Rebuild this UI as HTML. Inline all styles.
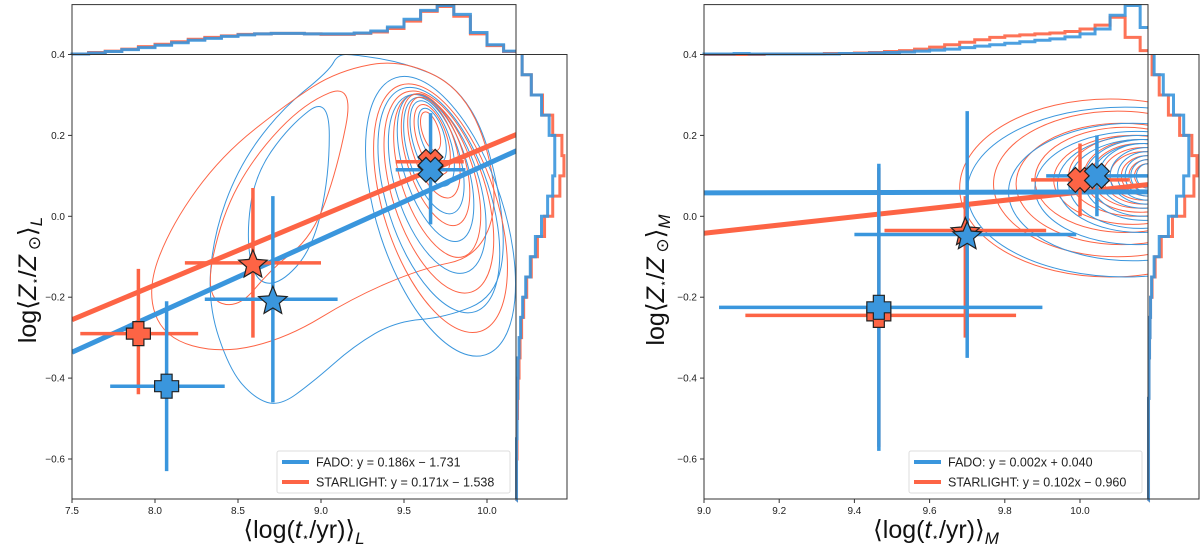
<!DOCTYPE html>
<html><head><meta charset="utf-8"><style>
body{margin:0;background:#fff;}
svg{display:block;font-family:"Liberation Sans","DejaVu Sans",sans-serif;}
</style></head><body>
<svg id="fig" width="1200" height="549" viewBox="0 0 1200 549" xmlns="http://www.w3.org/2000/svg"></svg>
<script>
const BLUE='#3a96dd', RED='#fd6445';
// ---------- Left panel data ----------
const L_fitFado=[0.186,-1.731], L_fitStar=[0.171,-1.538];
const L_fadoPts=[[8.07,-0.42,7.73,8.42,-0.63,-0.21,'plus'],[8.71,-0.205,8.30,9.10,-0.46,0.05,'star'],[9.66,0.115,9.45,9.87,-0.02,0.255,'x']];
const L_starPts=[[7.90,-0.29,7.55,8.26,-0.44,-0.13,'plus'],[8.59,-0.115,8.18,9.00,-0.30,0.07,'star'],[9.66,0.135,9.45,9.86,0.12,0.15,'x']];
const L_topBins=[7.5,7.6,7.7,7.8,7.9,8.0,8.1,8.2,8.3,8.4,8.5,8.6,8.7,8.8,8.9,9.0,9.1,9.2,9.3,9.4,9.5,9.6,9.7,9.8,9.9,10.0,10.1];
const L_topFado=[0.01,0.03,0.06,0.1,0.14,0.19,0.24,0.29,0.33,0.37,0.40,0.42,0.43,0.43,0.42,0.42,0.42,0.44,0.48,0.56,0.72,0.9,1.0,0.82,0.45,0.2,0.07];
const L_topStar=[0.01,0.04,0.07,0.11,0.16,0.21,0.26,0.31,0.35,0.38,0.41,0.42,0.43,0.43,0.42,0.41,0.41,0.43,0.46,0.53,0.68,0.88,0.98,0.78,0.42,0.18,0.06];
const L_rBins=[-0.7,-0.65,-0.6,-0.55,-0.5,-0.45,-0.4,-0.35,-0.3,-0.25,-0.2,-0.15,-0.1,-0.05,0,0.05,0.1,0.15,0.2,0.25,0.3,0.35];
const L_rFado=[0.01,0.01,0.01,0.02,0.02,0.03,0.04,0.06,0.09,0.13,0.19,0.28,0.38,0.5,0.62,0.72,0.76,0.76,0.65,0.5,0.3,0.12];
const L_rStar=[0.01,0.01,0.02,0.02,0.03,0.04,0.06,0.08,0.11,0.15,0.21,0.3,0.42,0.56,0.72,0.86,0.94,0.9,0.72,0.52,0.3,0.12];
const L_outerFado=[[9.1,0.4],[9.05,0.36],[8.75,0.26],[8.5,0.12],[8.35,-0.05],[8.32,-0.22],[8.45,-0.38],[8.6,-0.45],[8.75,-0.47],[8.95,-0.41],[9.2,-0.32],[9.45,-0.26],[9.75,-0.25],[10.05,-0.2],[10.12,-0.05],[10.0,0.2],[9.8,0.33],[9.5,0.38],[9.2,0.4]];
const L_midFado=[[8.55,-0.05],[8.6,0.1],[8.8,0.22],[9.05,0.3],[9.05,0.1],[8.95,-0.08],[8.75,-0.17],[8.6,-0.16]];
const L_outerStar=[[7.95,-0.18],[8.1,-0.02],[8.4,0.15],[8.8,0.28],[9.1,0.36],[9.5,0.39],[9.9,0.3],[10.08,0.05],[9.95,-0.1],[9.6,-0.13],[9.2,-0.2],[8.8,-0.3],[8.4,-0.34],[8.05,-0.3]];
const L_midStar=[[8.3,-0.2],[8.4,0.0],[8.6,0.15],[8.9,0.28],[9.2,0.33],[9.1,0.12],[8.95,-0.05],[8.7,-0.13],[8.5,-0.23]];
const L_ellCx=[9.72,9.72,9.71,9.71,9.70,9.70,9.69,9.69,9.68,9.68,9.67,9.67,9.67,9.66];
const L_ellCy=[0.0,0.02,0.04,0.06,0.08,0.1,0.12,0.14,0.15,0.17,0.18,0.19,0.2,0.21];
const L_ellRx=[0.38,0.34,0.31,0.28,0.25,0.22,0.19,0.17,0.15,0.13,0.11,0.09,0.07,0.05];
const L_ellRy=[0.36,0.32,0.29,0.26,0.23,0.21,0.19,0.17,0.15,0.13,0.11,0.09,0.07,0.05];
// ---------- Right panel data ----------
const R_fitFado=[0.002,0.040], R_fitStar=[0.102,-0.960];
const R_fadoPts=[[9.465,-0.225,9.04,9.90,-0.58,0.13,'plus'],[9.70,-0.045,9.40,9.99,-0.35,0.26,'star'],[10.045,0.10,9.91,10.18,0.0,0.2,'x']];
const R_starPts=[[9.465,-0.245,9.11,9.83,-0.57,0.12,'plus'],[9.695,-0.035,9.48,9.91,-0.30,0.05,'star'],[10.0,0.09,9.87,10.13,0.0,0.18,'x']];
const R_topBins=[9.0,9.04,9.08,9.12,9.16,9.2,9.24,9.28,9.32,9.36,9.4,9.44,9.48,9.52,9.56,9.6,9.64,9.68,9.72,9.76,9.8,9.84,9.88,9.92,9.96,10.0,10.04,10.08,10.12,10.16];
const R_topFado=[0.01,0.01,0.02,0.01,0.01,0.01,0.01,0.01,0.01,0.02,0.02,0.03,0.04,0.05,0.07,0.09,0.11,0.14,0.17,0.2,0.23,0.26,0.29,0.32,0.36,0.42,0.52,0.8,1.0,0.55];
const R_topStar=[0.0,0.0,0.0,0.0,0.01,0.01,0.01,0.01,0.02,0.02,0.03,0.04,0.06,0.08,0.11,0.15,0.2,0.25,0.3,0.35,0.38,0.4,0.42,0.44,0.47,0.52,0.6,0.76,0.35,0.08];
const R_rBins=L_rBins;
const R_rFado=[0.01,0.01,0.01,0.01,0.01,0.02,0.02,0.03,0.04,0.05,0.07,0.12,0.22,0.4,0.56,0.7,0.8,0.8,0.7,0.5,0.3,0.12];
const R_rStar=[0.01,0.01,0.01,0.01,0.01,0.02,0.02,0.03,0.04,0.05,0.08,0.14,0.26,0.48,0.72,0.9,0.96,0.86,0.62,0.4,0.22,0.08];
const R_ellFadoCx=[10.12,10.14,10.15,10.16,10.16,10.17,10.17,10.17,10.18,10.18,10.18,10.18,10.18];
const R_ellFadoCy=[0.06,0.06,0.07,0.08,0.08,0.09,0.09,0.1,0.1,0.1,0.1,0.1,0.1];
const R_ellFadoRx=[0.42,0.33,0.27,0.22,0.19,0.16,0.14,0.12,0.10,0.08,0.06,0.045,0.03];
const R_ellFadoRy=[0.21,0.17,0.14,0.12,0.11,0.1,0.09,0.08,0.07,0.06,0.05,0.04,0.03];
const R_ellStarCx=[10.08,10.1,10.11,10.12,10.14,10.15,10.16,10.16,10.17,10.17,10.18,10.18,10.18];
const R_ellStarCy=[0.07,0.08,0.08,0.09,0.09,0.1,0.1,0.1,0.1,0.1,0.1,0.1,0.1];
const R_ellStarRx=[0.40,0.33,0.28,0.24,0.21,0.18,0.15,0.13,0.11,0.09,0.07,0.05,0.035];
const R_ellStarRy=[0.22,0.18,0.15,0.13,0.11,0.1,0.09,0.08,0.07,0.06,0.05,0.04,0.03];

const NS='http://www.w3.org/2000/svg';
const svg=document.getElementById('fig');
function mk(tag,attrs,parent){const e=document.createElementNS(NS,tag);for(const k in attrs)e.setAttribute(k,attrs[k]);(parent||svg).appendChild(e);return e;}
const Y0=54.5, YB=499, YT=4.6, perY=404.5;
function smoothPath(pts){let d='';const n=pts.length;for(let i=0;i<n;i++){const a=pts[i],b=pts[(i+1)%n];const m=[(a[0]+b[0])/2,(a[1]+b[1])/2];if(i==0){const p=pts[n-1];d+='M'+((p[0]+a[0])/2)+','+((p[1]+a[1])/2);}d+=' Q'+a[0]+','+a[1]+' '+m[0]+','+m[1];}return d+'Z';}
function starPath(cx,cy,R){let d='';for(let i=0;i<10;i++){const r=i%2?R*0.45:R;const a=-Math.PI/2+i*Math.PI/5;d+=(i?'L':'M')+(cx+r*Math.cos(a)).toFixed(1)+','+(cy+r*Math.sin(a)).toFixed(1);}return d+'Z';}
function plusPath(cx,cy,s,w){return `M${cx-w},${cy-s}H${cx+w}V${cy-w}H${cx+s}V${cy+w}H${cx+w}V${cy+s}H${cx-w}V${cy+w}H${cx-s}V${cy-w}H${cx-w}Z`;}

function panel(o){
  const g=mk('g',{});
  
  
  const X=v=>o.x0+(v-o.xmin)*o.perX, Y=v=>Y0+(0.4-v)*perY;
  const clipId=o.name+'-clip';
  const cp=mk('clipPath',{id:clipId},g);mk('rect',{x:o.x0,y:Y0,width:o.x1-o.x0,height:YB-Y0},cp);
  const cg=mk('g',{'clip-path':`url(#${clipId})`},g);
  
  
  (o.polys||[]).forEach(p=>{const e=mk('path',{d:smoothPath(p[0].map(q=>[X(q[0]),Y(q[1])])),fill:'none',stroke:p[1],'stroke-width':1},cg);
    });
  (o.ells||[]).forEach(E=>{for(let i=0;i<E.cx.length;i++){const e=mk('ellipse',{cx:X(E.cx[i]),cy:Y(E.cy[i]),rx:E.rx[i]*o.perX,ry:E.ry[i]*perY,fill:'none',stroke:(E.alt&&i%2)?E.alt:E.col,'stroke-width':1,transform:E.rot?`rotate(${E.rot} ${X(E.cx[i])} ${Y(E.cy[i])})`:''},cg);
    }});
  [[o.fitStar,RED,'fit-line-starlight'],[o.fitFado,BLUE,'fit-line-fado']].forEach(f=>{
    const xa=o.xmin,xb=o.xmax;const e=mk('line',{x1:X(xa),y1:Y(f[0][0]*xa+f[0][1]),x2:X(xb),y2:Y(f[0][0]*xb+f[0][1]),stroke:f[1],'stroke-width':5},cg);
    });
  [[o.starPts,RED,'starlight'],[o.fadoPts,BLUE,'fado']].forEach(S=>{S[0].forEach(p=>{
    const h=mk('line',{x1:X(p[2]),x2:Math.min(X(p[3]),o.x1),y1:Y(p[1]),y2:Y(p[1]),stroke:S[1],'stroke-width':3.5},cg);
    
    const v=mk('line',{x1:X(p[0]),x2:X(p[0]),y1:Y(p[4]),y2:Y(p[5]),stroke:S[1],'stroke-width':3.5},cg);
    });});
  [[o.starPts,RED,'starlight'],[o.fadoPts,BLUE,'fado']].forEach(S=>{S[0].forEach(p=>{
    const cx=X(p[0]),cy=Y(p[1]);let d;
    if(p[6]=='star')d=starPath(cx,cy+2,15);else d=plusPath(cx,cy,12,5.5);
    const m=mk('path',{d:d,fill:S[1],stroke:'#222','stroke-width':1.2,transform:p[6]=='x'?`rotate(45 ${cx} ${cy})`:''},cg);
    });});
  [[o.topStar,RED],[o.topFado,BLUE]].forEach(H=>{let d='M'+X(o.topBins[0])+','+Y0;const w=o.topBins[1]-o.topBins[0];
    o.topBins.forEach((b,i)=>{const yy=Y0-H[0][i]*49;d+=' L'+X(b)+','+yy+' L'+Math.min(X(b+w),o.x1)+','+yy;});
    const e=mk('path',{d:d,fill:'none',stroke:H[1],'stroke-width':3,'stroke-opacity':0.9},g);
    });
  [[o.rStar,RED],[o.rFado,BLUE]].forEach(H=>{let d='M'+o.x1+','+YB;const w=0.05;
    o.rBins.forEach((b,i)=>{const xx=o.x1+H[0][i]*51;d+=' L'+xx+','+Y(b)+' L'+xx+','+Y(b+w);});
    const e=mk('path',{d:d,fill:'none',stroke:H[1],'stroke-width':3,'stroke-opacity':0.9},g);
    });
  const fr=[[o.x0,Y0,o.x1-o.x0,YB-Y0],[o.x0,YT,o.x1-o.x0,Y0-YT],[o.x1,Y0,51,YB-Y0]];
  fr.forEach(r=>{const e=mk('rect',{x:r[0],y:r[1],width:r[2],height:r[3],fill:'none',stroke:'#333','stroke-width':1},g);
    });
  o.xticks.forEach(t=>{mk('line',{x1:X(t),x2:X(t),y1:YB,y2:YB+4,stroke:'#333'},g);
    const e=mk('text',{x:X(t),y:YB+15,'font-size':10,'text-anchor':'middle',fill:'#222'},g);e.textContent=t.toFixed(1);
    });
  o.yticks.forEach(t=>{mk('line',{x1:o.x0,x2:o.x0-4,y1:Y(t),y2:Y(t),stroke:'#333'},g);
    const e=mk('text',{x:o.x0-7,y:Y(t)+3.5,'font-size':10,'text-anchor':'end',fill:'#222'},g);e.textContent=(t<0?'\u2212':'')+Math.abs(t).toFixed(1);
    });
  const xt=mk('text',{x:(o.x0+o.x1)/2+10,y:538,'font-size':25,'text-anchor':'middle',fill:'#111'},g);
  xt.innerHTML=`⟨log(<tspan font-style="italic">t</tspan><tspan font-size="12" dy="3">⋆</tspan><tspan dy="-3">/yr)⟩</tspan><tspan font-size="17" dy="6" font-style="italic">${o.sub}</tspan>`;
  
  const yt=mk('text',{x:0,y:0,'font-size':25,'text-anchor':'middle',fill:'#111',transform:`translate(${o.ylx},280) rotate(-90)`},g);
  yt.innerHTML=`log⟨<tspan font-style="italic">Z</tspan><tspan font-size="12" dy="3">⋆</tspan><tspan dy="-3">/</tspan><tspan font-style="italic">Z</tspan><tspan font-size="17" dy="4"> ⊙</tspan><tspan dy="-4">⟩</tspan><tspan font-size="17" dy="6" font-style="italic">${o.sub}</tspan>`;
  
  const lg=mk('g',{},g);
  mk('rect',{x:o.lx,y:451,width:233,height:42,fill:'#fff','fill-opacity':0.85,stroke:'#ddd',rx:2},lg);
  o.leg.forEach((L,i)=>{const y=462+i*20;mk('line',{x1:o.lx+5,x2:o.lx+32,y1:y,y2:y,stroke:L[1],'stroke-width':4},lg);
    const t=mk('text',{x:o.lx+39,y:y+4.5,'font-size':12.5,fill:'#222'},lg);t.textContent=L[0];
    });
}
panel({name:'left-panel',x0:72,x1:516,xmin:7.5,xmax:10.18,perX:166,sub:'L',ylx:36,lx:277,
  fitFado:L_fitFado,fitStar:L_fitStar,fadoPts:L_fadoPts,starPts:L_starPts,
  topBins:L_topBins,topFado:L_topFado,topStar:L_topStar,rBins:L_rBins,rFado:L_rFado,rStar:L_rStar,
  polys:[[L_outerFado,BLUE],[L_midFado,BLUE],[L_outerStar,RED],[L_midStar,RED]],
  ells:[{cx:L_ellCx,cy:L_ellCy,rx:L_ellRx,ry:L_ellRy,col:BLUE,alt:RED,rot:-18}],
  xticks:[7.5,8.0,8.5,9.0,9.5,10.0],yticks:[0.4,0.2,0.0,-0.2,-0.4,-0.6],
  leg:[['FADO: y = 0.186x \u2212 1.731',BLUE],['STARLIGHT: y = 0.171x \u2212 1.538',RED]]});
panel({name:'right-panel',x0:704,x1:1148,xmin:9.0,xmax:10.18,perX:376,sub:'M',ylx:664,lx:909,
  fitFado:R_fitFado,fitStar:R_fitStar,fadoPts:R_fadoPts,starPts:R_starPts,
  topBins:R_topBins,topFado:R_topFado,topStar:R_topStar,rBins:R_rBins,rFado:R_rFado,rStar:R_rStar,
  polys:[],
  ells:[{cx:R_ellStarCx,cy:R_ellStarCy,rx:R_ellStarRx,ry:R_ellStarRy,col:RED},{cx:R_ellFadoCx,cy:R_ellFadoCy,rx:R_ellFadoRx,ry:R_ellFadoRy,col:BLUE}],
  xticks:[9.0,9.2,9.4,9.6,9.8,10.0],yticks:[0.4,0.2,0.0,-0.2,-0.4,-0.6],
  leg:[['FADO: y = 0.002x + 0.040',BLUE],['STARLIGHT: y = 0.102x \u2212 0.960',RED]]});
</script>
</body></html>
